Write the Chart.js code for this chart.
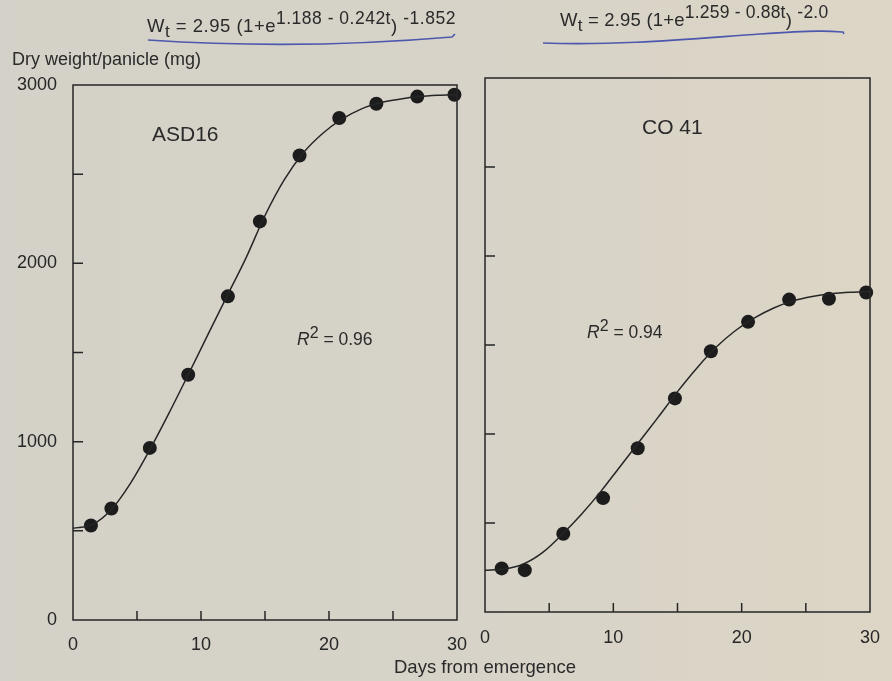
<!DOCTYPE html>
<html>
<head>
<meta charset="utf-8">
<script src="https://cdn.jsdelivr.net/npm/chart.js@4.4.1/dist/chart.umd.min.js"></script>
<style>
  html, body { margin: 0; padding: 0; }
  body { width: 892px; height: 681px; overflow: hidden;
         background: linear-gradient(90deg, #d4d1c8 0%, #d7d3c8 55%, #ddd6c6 100%);
         font-family: "Liberation Sans", Arial, sans-serif; color: #2a2a2a; }
  #wrap { position: relative; width: 892px; height: 681px; }
  canvas { position: absolute; top: 0; }
  .txt { position: absolute; white-space: nowrap; line-height: 1; }
  .eq { font-size: 18.5px; }
  .eq sup { font-size: 17.5px; vertical-align: 8px; }
  .eq sub { font-size: 17px; vertical-align: -5px; }
  .r2 { font-size: 17.5px; }
  .r2 sup { font-size: 16px; vertical-align: 7px; }
  svg { position: absolute; left: 0; top: 0; }
</style>
</head>
<body>
<div id="wrap">
  <canvas id="asdChart" width="480" height="681" style="left:0"></canvas>
  <canvas id="coChart" width="419" height="681" style="left:473px"></canvas>

  <svg width="892" height="60">
    <path d="M148,40 Q300,50 452,37 l3,-3" fill="none" stroke="#4d57ad" stroke-width="1.6"/>
    <path d="M543,43 C620,46 700,38 760,34 S830,31 843,32 l1,2" fill="none" stroke="#4d57ad" stroke-width="1.6"/>
  </svg>

  <div class="txt eq" style="left:147px;top:10px;letter-spacing:0.5px">W<sub>t</sub> = 2.95 (1+e<sup>1.188 - 0.242t</sup>) <sup>-1.852</sup></div>
  <div class="txt eq" style="left:560px;top:4px;letter-spacing:0.2px">W<sub>t</sub> = 2.95 (1+e<sup>1.259 - 0.88t</sup>) <sup>-2.0</sup></div>

  <div class="txt" style="left:12px;top:50px;font-size:18px">Dry weight/panicle (mg)</div>
  <div class="txt" style="left:394px;top:658px;font-size:18.5px">Days from emergence</div>

  <div class="txt" style="left:152px;top:123px;font-size:21px">ASD16</div>
  <div class="txt" style="left:642px;top:116px;font-size:21px">CO 41</div>
  <div class="txt r2" style="left:297px;top:325px"><i>R</i><sup>2</sup> = 0.96</div>
  <div class="txt r2" style="left:587px;top:318px"><i>R</i><sup>2</sup> = 0.94</div>
</div>

<script>
// measured points (days from emergence, mg)
const asdDays = [1.4, 3.0, 6.0, 9.0, 12.1, 14.6, 17.7, 20.8, 23.7, 26.9, 29.8];
const asdWeight = [530, 625, 965, 1375, 1815, 2235, 2605, 2815, 2895, 2935, 2945];
const coDays = [1.3, 3.1, 6.1, 9.2, 11.9, 14.8, 17.6, 20.5, 23.7, 26.8, 29.7];
const coWeight = [245, 235, 440, 640, 920, 1200, 1465, 1630, 1755, 1760, 1795];

// fitted curves
const fitDays = [0, 1.5, 3, 4.5, 6, 7.5, 9, 10.5, 12, 13.5, 15, 16.5, 18, 19.5, 21, 22.5, 24, 25.5, 27, 28.5, 30];
const asdFit = [515, 535, 620, 768, 955, 1160, 1375, 1595, 1812, 2028, 2268, 2468, 2620, 2728, 2808, 2865, 2900, 2920, 2935, 2943, 2947];
const coFit = [235, 242, 270, 335, 435, 548, 675, 815, 955, 1095, 1238, 1370, 1487, 1580, 1652, 1708, 1748, 1773, 1788, 1796, 1800];

// axis ticks
const xTicks = [5, 10, 15, 20, 25];
const yTicks = [500, 1000, 1500, 2000, 2500];

const ink = '#262626';

function toXY(xs, ys) {
  return xs.map((x, i) => ({ x: x, y: ys[i] }));
}

// frame box and inward tick marks
const framePlugin = {
  id: 'frame',
  afterDatasetsDraw(chart) {
    const { ctx, chartArea: a, scales } = chart;
    ctx.save();
    ctx.strokeStyle = ink;
    ctx.lineWidth = 1.5;
    ctx.strokeRect(a.left, a.top, a.right - a.left, a.bottom - a.top);
    ctx.beginPath();
    xTicks.forEach(v => {
      const px = scales.x.getPixelForValue(v);
      ctx.moveTo(px, a.bottom);
      ctx.lineTo(px, a.bottom - 9);
    });
    yTicks.forEach(v => {
      const py = scales.y.getPixelForValue(v);
      ctx.moveTo(a.left, py);
      ctx.lineTo(a.left + 10, py);
    });
    ctx.stroke();
    ctx.restore();
  }
};

function makeChart(id, pts, fit, opts) {
  const ctx = document.getElementById(id).getContext('2d');
  return new Chart(ctx, {
    type: 'scatter',
    data: {
      datasets: [
        {
          data: toXY(fitDays, fit),
          showLine: true,
          borderColor: ink,
          borderWidth: 1.5,
          pointRadius: 0,
          cubicInterpolationMode: 'monotone',
          clip: false
        },
        {
          data: pts,
          pointRadius: 7,
          pointBackgroundColor: '#1c1c1c',
          pointBorderWidth: 0,
          clip: false
        }
      ]
    },
    options: {
      responsive: false,
      animation: false,
      layout: { padding: { top: opts.top, right: opts.right, left: 0, bottom: 0 } },
      plugins: { legend: { display: false }, tooltip: { enabled: false } },
      scales: {
        x: {
          type: 'linear', min: 0, max: 30,
          grid: { display: false }, border: { display: false },
          ticks: { stepSize: 10, padding: opts.xPad, color: ink, maxRotation: 0,
                   font: { family: 'Liberation Sans', size: 18 } },
          afterFit: s => { s.height = opts.xHeight; }
        },
        y: {
          type: 'linear', min: 0, max: 3000,
          grid: { display: false }, border: { display: false },
          ticks: { display: opts.yLabels, stepSize: 1000, padding: 8, color: ink,
                   font: { family: 'Liberation Sans', size: 18 },
                   callback: v => String(v) },
          afterFit: s => { s.width = opts.yWidth; }
        }
      }
    },
    plugins: [framePlugin]
  });
}

makeChart('asdChart', toXY(asdDays, asdWeight), asdFit,
  { top: 85, right: 23, xHeight: 61, yWidth: 73, yLabels: true, xPad: 6 });
makeChart('coChart', toXY(coDays, coWeight), coFit,
  { top: 78, right: 22, xHeight: 69, yWidth: 5, yLabels: false, xPad: 7 });
</script>
</body>
</html>
